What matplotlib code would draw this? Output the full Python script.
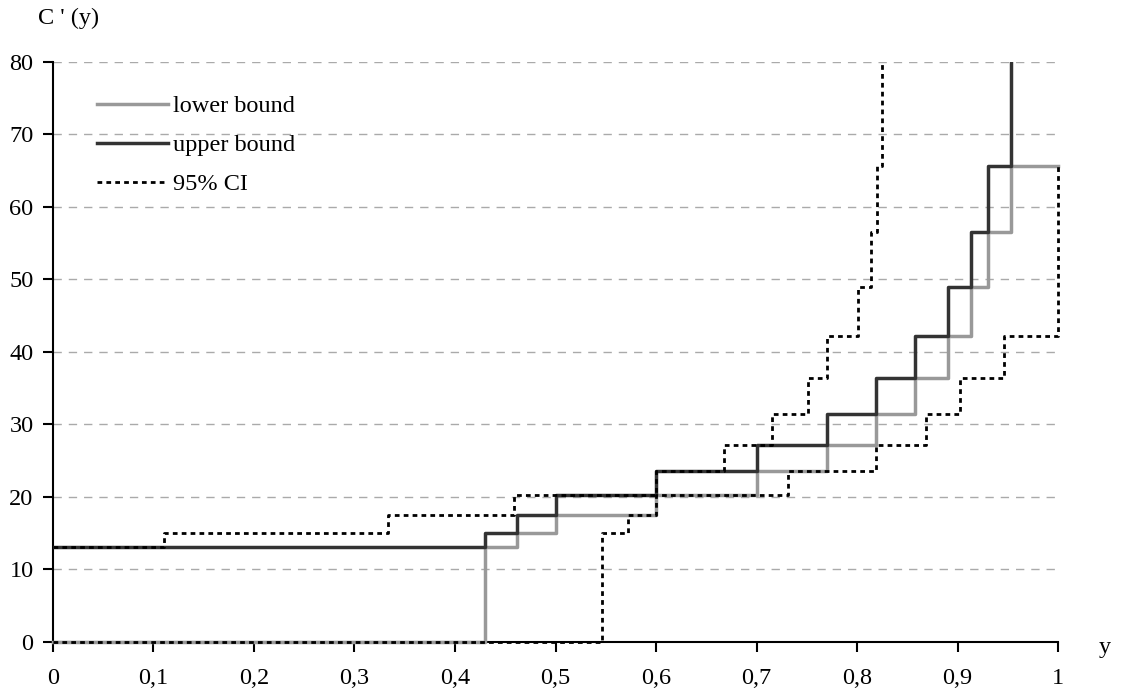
import matplotlib.pyplot as plt

# step data
bound_x = [0, 0.43, 0.462, 0.5, 0.6, 0.7, 0.77, 0.819, 0.858, 0.891, 0.913, 0.93, 0.953, 1.0]
upper_y = [13, 15, 17.5, 20.3, 23.5, 27.1, 31.4, 36.4, 42.2, 48.9, 56.6, 65.6, 90, 90]
lower_y = [0, 13, 15, 17.5, 20.3, 23.5, 27.1, 31.4, 36.4, 42.2, 48.9, 56.6, 65.6, 65.6]

ci_up_x = [0, 0.11, 0.333, 0.459, 0.6, 0.668, 0.715, 0.751, 0.770, 0.801, 0.814, 0.820, 0.825, 1.0]
ci_up_y = [13, 15, 17.5, 20.3, 23.5, 27.1, 31.4, 36.4, 42.2, 48.9, 56.6, 65.6, 90, 90]
ci_lo_x = [0, 0.546, 0.572, 0.6, 0.731, 0.819, 0.869, 0.902, 0.946, 1.0]
ci_lo_y = [0, 15, 17.5, 20.3, 23.5, 27.1, 31.4, 36.4, 42.2, 65.6]

xticks = [0, 0.1, 0.2, 0.3, 0.4, 0.5, 0.6, 0.7, 0.8, 0.9, 1.0]
xticklabels = ['0', '0,1', '0,2', '0,3', '0,4', '0,5', '0,6', '0,7', '0,8', '0,9', '1']
yticks = [0, 10, 20, 30, 40, 50, 60, 70, 80]

plt.rcParams['font.family'] = ['Liberation Serif', 'DejaVu Serif']
plt.rcParams['font.size'] = 17.5

fig = plt.figure(figsize=(11.22, 6.95), dpi=100)
ax = fig.add_axes([0.0472, 0.0767, 0.8958, 0.8341])

ax.step(bound_x, lower_y, where='post', color='#999999', lw=2.5, label='lower bound',
        zorder=3, clip_on=False)
ax.step(bound_x, upper_y, where='post', color='#333333', lw=2.5, label='upper bound', zorder=4)
ax.step(ci_up_x, ci_up_y, where='post', color='black', lw=2, dashes=(1.7, 1.5),
        label='95% CI', zorder=5)
ax.step(ci_lo_x, ci_lo_y, where='post', color='black', lw=2, dashes=(1.7, 1.5),
        zorder=5, clip_on=False)

ax.set_xlim(0, 1)
ax.set_ylim(0, 80)
ax.set_xticks(xticks)
ax.set_xticklabels(xticklabels)
ax.set_yticks(yticks)
ax.tick_params(direction='out', length=7, width=1.5)
ax.tick_params(axis='x', pad=12)
ax.tick_params(axis='y', pad=7)

for s in ['top', 'right']:
    ax.spines[s].set_visible(False)
for s in ['left', 'bottom']:
    ax.spines[s].set_linewidth(1.5)

ax.yaxis.grid(True, color='#aaaaaa', linestyle=(0, (6, 5)), lw=1)
ax.set_axisbelow(True)

ax.legend(loc='upper left', bbox_to_anchor=(0.044, 0.943), frameon=False,
          handlelength=2.9, handletextpad=0.2, labelspacing=0.7,
          borderaxespad=0, borderpad=0)

fig.text(38 / 1122, 1 - 18 / 695, "C ' (y)", ha='left', va='center')
fig.text(1105 / 1122, 1 - 648 / 695, 'y', ha='center', va='center')

fig.savefig('out.png', dpi=100)
